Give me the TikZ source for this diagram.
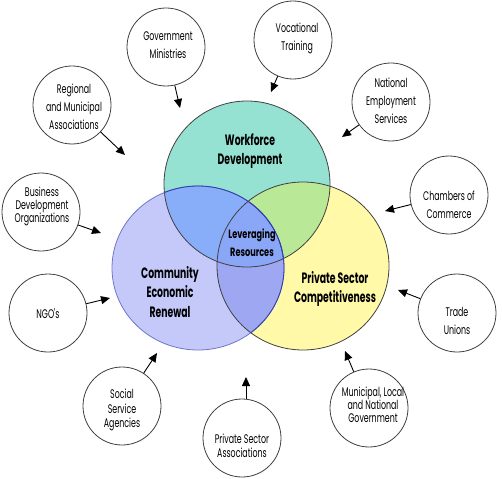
\documentclass[tikz,border=0pt]{standalone}
\usepackage{fontspec}
\usetikzlibrary{arrows.meta}
\newfontfamily\smallfnt{Poppins}[FakeStretch=0.63]
\newfontfamily\bigfnt{Poppins}[FakeStretch=0.62]
\newfontfamily\levfnt{Poppins}[FakeStretch=0.68]
\definecolor{tealc}{HTML}{96E2D2}
\definecolor{bluec}{HTML}{C4C9FA}
\definecolor{yelc}{HTML}{FFF9A8}
\definecolor{tbc}{HTML}{88AEF9}
\definecolor{tyc}{HTML}{B9E896}
\definecolor{byc}{HTML}{9DA7F2}
\definecolor{tbyc}{HTML}{8AA6F6}
\definecolor{blueline}{HTML}{2E3EAE}
\tikzset{
  smallc/.style={circle, draw=black!75, line width=0.8pt, fill=white, minimum size=78pt, inner sep=0pt},
  stxt/.style={align=center, font=\smallfnt\fontsize{12.5}{18}\selectfont, inner sep=0pt},
  stxttight/.style={align=center, font=\smallfnt\fontsize{12.5}{13}\selectfont, inner sep=0pt},
  stxtmid/.style={align=center, font=\smallfnt\fontsize{12.5}{14.5}\selectfont, inner sep=0pt},
  btxt/.style={align=center, font=\bigfnt\bfseries\fontsize{15}{19.5}\selectfont, inner sep=0pt},
  ltxt/.style={align=center, font=\levfnt\bfseries\fontsize{12}{18}\selectfont, inner sep=0pt},
  arr/.style={line width=0.9pt, -{Triangle[length=9pt,width=8pt]}}
}
\begin{document}
\begin{tikzpicture}[x=1pt,y=-1pt]
\useasboundingbox (0,0) rectangle (502,478);
% big circles fills
\fill[tealc] (247,184) ellipse [x radius=83pt, y radius=83pt];
\fill[bluec] (198,268) ellipse [x radius=86pt, y radius=82pt];
\fill[yelc] (303,266) ellipse [x radius=86pt, y radius=84pt];
\begin{scope}
  \clip (247,184) ellipse [x radius=83pt, y radius=83pt];
  \fill[tbc] (198,268) ellipse [x radius=86pt, y radius=82pt];
  \fill[tyc] (303,266) ellipse [x radius=86pt, y radius=84pt];
\end{scope}
\begin{scope}
  \clip (198,268) ellipse [x radius=86pt, y radius=82pt];
  \fill[byc] (303,266) ellipse [x radius=86pt, y radius=84pt];
  \clip (247,184) ellipse [x radius=83pt, y radius=83pt];
  \fill[tbyc] (303,266) ellipse [x radius=86pt, y radius=84pt];
\end{scope}
% outlines
\draw[black!75, line width=0.8pt] (247,184) ellipse [x radius=83pt, y radius=83pt];
\draw[blueline!70, line width=0.8pt] (198,268) ellipse [x radius=86pt, y radius=82pt];
\draw[black!75, line width=0.8pt] (303,266) ellipse [x radius=86pt, y radius=84pt];
\begin{scope}
  \clip (247,184) ellipse [x radius=83pt, y radius=83pt];
  \draw[blueline, line width=0.8pt] (198,268) ellipse [x radius=86pt, y radius=82pt];
\end{scope}
\begin{scope}
  \clip (303,266) ellipse [x radius=86pt, y radius=84pt];
  \draw[blueline, line width=0.8pt] (198,268) ellipse [x radius=86pt, y radius=82pt];
\end{scope}
% big labels
\node[btxt] (wd) at (250,151) {Workforce\\Development};
\node[ltxt] (lr) at (252,243) {Leveraging\\Resources};
\node[btxt] (cer) at (170,292) {Community\\Economic\\Renewal};
\node[btxt] (psc) at (335,289) {Private Sector\\Competitiveness};
% small circles
\node[smallc] (gm) at (166,47) {};
\node[stxt] (gmt) at (168,45) {Government\\Ministries};
\node[smallc] (rma) at (72,105) {};
\node[stxt] (rmat) at (74,107) {Regional\\and Municipal\\Associations};
\node[smallc] (bdo) at (41,212) {};
\node[stxttight] (bdot) at (42,206) {Business\\Development\\Organizations};
\node[smallc] (vt) at (293,40) {};
\node[stxt] (vtt) at (297,38) {Vocational\\Training};
\node[smallc] (nes) at (391,102) {};
\node[stxt] (nest) at (391,101) {National\\Employment\\Services};
\node[smallc] (cc) at (449,195) {};
\node[stxt] (cct) at (449,205) {Chambers of\\Commerce};
\node[smallc] (ngo) at (48,313) {};
\node[stxt] (ngot) at (48,314) {NGO's};
\node[smallc] (ssa) at (122,406) {};
\node[stxtmid] (ssat) at (122,410) {Social\\Service\\Agencies};
\node[smallc] (psa) at (242,438) {};
\node[stxtmid] (psat) at (242,446) {Private Sector\\Associations};
\node[smallc] (mlng) at (369,408) {};
\node[stxttight] (mlngt) at (373,405) {Municipal, Local\\and National\\Government};
\node[smallc] (tu) at (457,313) {};
\node[stxt] (tut) at (457,321) {Trade\\Unions};
% arrow tips
\coordinate (t1) at (180,108);
\coordinate (t2) at (125,155);
\coordinate (t3) at (101,233);
\coordinate (t4) at (271,92);
\coordinate (t5) at (342,137);
\coordinate (t6) at (385,211);
\coordinate (t7) at (110,298);
\coordinate (t8) at (157,353);
\coordinate (t9) at (246,377);
\coordinate (t10) at (345,351);
\coordinate (t11) at (398,290);
\draw[arr] (gm) -- (t1);
\draw[arr] (rma) -- (t2);
\draw[arr] (bdo) -- (t3);
\draw[arr] (vt) -- (t4);
\draw[arr] (nes) -- (t5);
\draw[arr] (cc) -- (t6);
\draw[arr] (ngo) -- (t7);
\draw[arr] (ssa) -- (t8);
\draw[arr] ([xshift=4pt]psa.north) -- (t9);
\draw[arr] (mlng) -- (t10);
\draw[arr] (tu) -- (t11);
\end{tikzpicture}
\end{document}
